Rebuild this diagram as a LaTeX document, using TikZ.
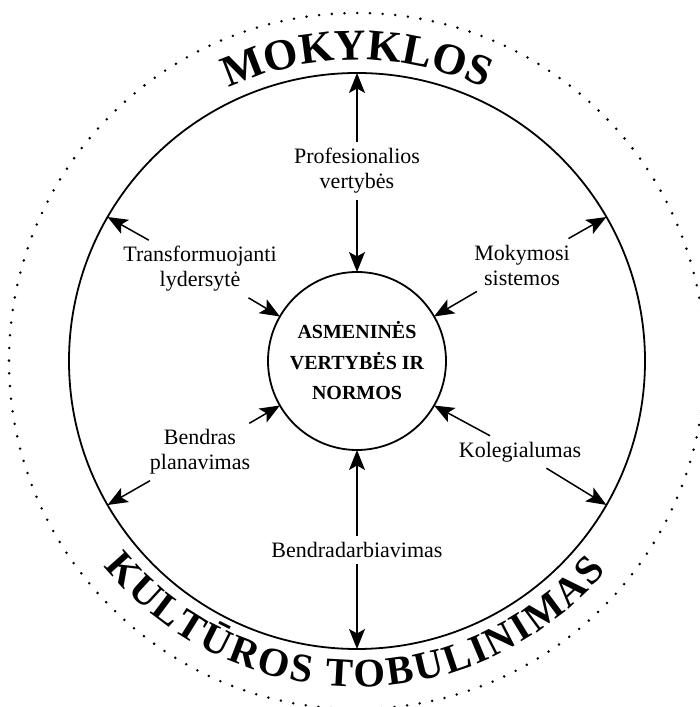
\documentclass[tikz,border=0pt]{standalone}
\usepackage{fontspec}
\setmainfont{Liberation Serif}
\usetikzlibrary{arrows.meta,decorations.text}
\begin{document}
\begin{tikzpicture}[x=1pt,y=1pt,
  ring/.style={circle, draw, line width=1.8pt, inner sep=0pt, outer sep=0pt},
  spoke/.style={line width=1.5pt, -{Stealth[length=20pt,width=16pt,inset=4.5pt]}},
  tag/.style={align=center, font=\fontsize{22}{25}\selectfont, inner sep=6pt},
]
\useasboundingbox (0,0) rectangle (699,707);
\coordinate (C) at (357,346);

% dotted outer boundary
\node[circle, draw, minimum size=696pt, inner sep=0pt, line width=2.8pt,
      dash pattern=on 0pt off 12.71pt, line cap=round] (rim) at (C) {};

% school ring and the core circle
\node[ring, minimum size=576pt] (school) at (C) {};
\node[ring, minimum size=178pt, align=center,
      font=\bfseries\fontsize{20}{30.5}\selectfont] (core) at (C)
      {ASMENINĖS\\VERTYBĖS IR\\NORMOS};

% spoke labels
\node[tag] (prof)  at (357,536) {Profesionalios\\vertybės};
\node[tag] (trans) at (200,438) {Transformuojanti\\lydersytė};
\node[tag] (moky)  at (522,442) {Mokymosi\\sistemos};
\node[tag] (plan)  at (200,255) {Bendras\\planavimas};
\node[tag] (koleg) at (520,255) {Kolegialumas};
\node[tag] (bdarb) at (357,157) {Bendradarbiavimas};

% two-way spokes: outward to the ring, inward to the core
\foreach \n/\a in {prof/90, trans/150, moky/30, plan/210, koleg/330, bdarb/270} {
  \draw[spoke] (\n) -- (school.\a);
  \draw[spoke] (\n) -- (core.\a);
}

% curved titles between the ring and the dotted boundary
\path[decorate, decoration={text along path, text align=center,
      text={|\fontsize{44}{44}\bfseries\selectfont|MOKYKLOS}}]
  (C) ++(160:301) arc[start angle=160, end angle=20, radius=301];
\path[decorate, decoration={text along path, text align={fit to path},
      text={|\fontsize{40.5}{40.5}\bfseries\selectfont|KULTŪROS TOBULINIMAS}}]
  (C) ++(219:326) arc[start angle=219, end angle=320, radius=326];
\end{tikzpicture}
\end{document}
